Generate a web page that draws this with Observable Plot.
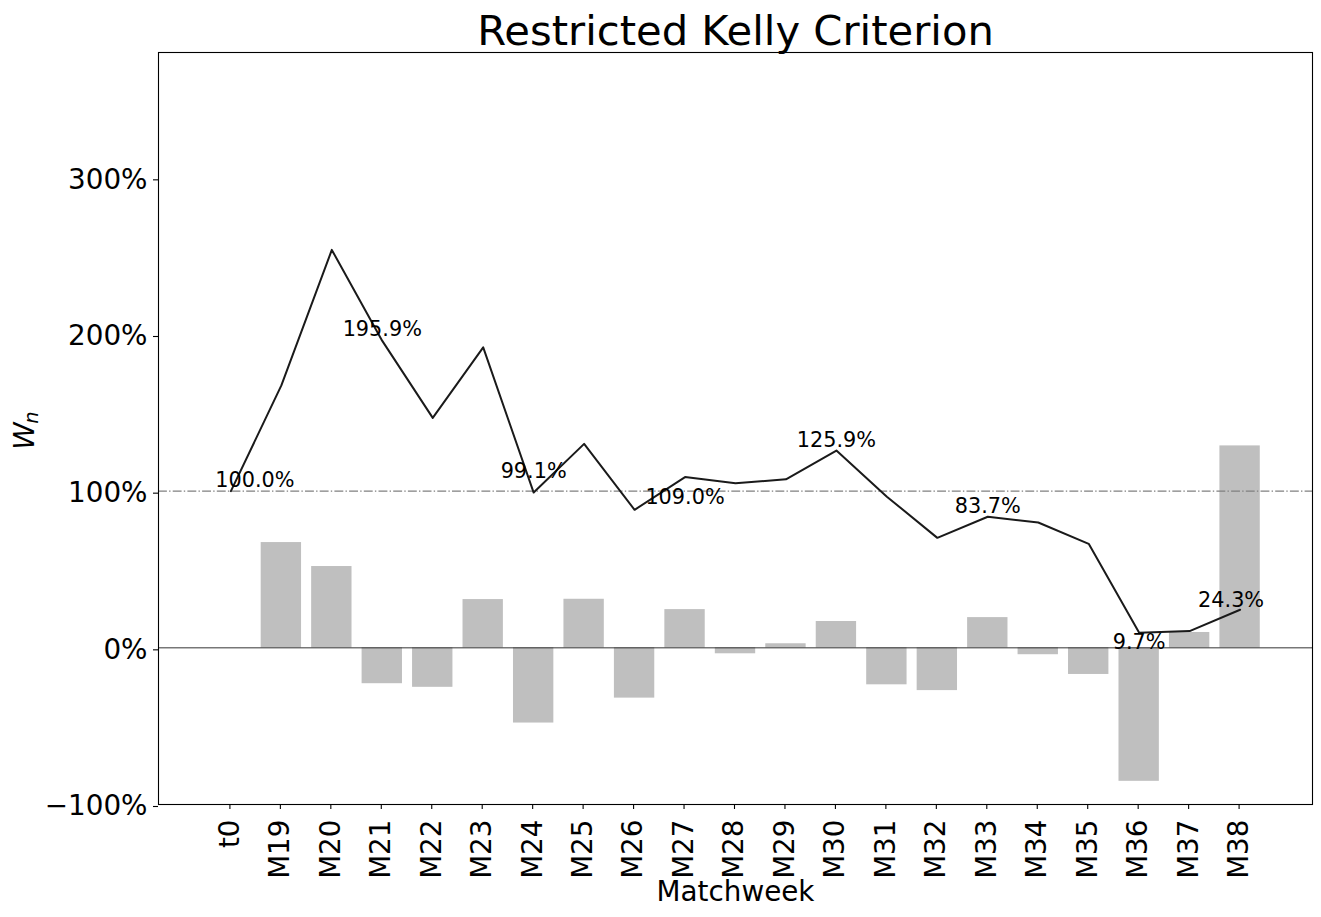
<!DOCTYPE html>
<html>
<head>
<meta charset="utf-8">
<script src="https://cdn.jsdelivr.net/npm/d3@7"></script>
<script src="https://cdn.jsdelivr.net/npm/@observablehq/plot@0.6"></script>
<style>
  html, body { margin: 0; padding: 0; background: white; }
  #chart svg { display: block; }
</style>
</head>
<body>
<div id="chart"></div>
<script>
// ---- data ----
const categories = ["t0","M19","M20","M21","M22","M23","M24","M25","M26","M27","M28",
                    "M29","M30","M31","M32","M33","M34","M35","M36","M37","M38"];
// cumulative wealth W_n (%)
const wealth = [100.0, 167.5, 254.0, 195.9, 146.8, 191.8, 99.1, 130.2, 88.1, 109.0, 105.0,
                107.6, 125.9, 96.5, 70.2, 83.7, 80.0, 66.4, 9.7, 10.7, 24.3];
// matchweek return (%) – no bar for t0
const returns = [null, 67.2, 51.9, -22.9, -25.2, 30.8, -48.0, 31.0, -32.1, 24.4, -3.8,
                 2.6, 16.8, -23.6, -27.3, 19.3, -4.4, -17.0, -85.2, 9.8, 128.9];
const labeledWeeks = ["t0","M21","M24","M27","M30","M33","M36","M38"];
const yTicks = [-100, 0, 100, 200, 300];
const titleText = "Restricted Kelly Criterion";
const xLabelText = "Matchweek";

// ---- tables built from the arrays ----
const wealthRows = categories.map((c, i) => ({week: c, w: wealth[i]}));
const barRows = categories.map((c, i) => ({week: c, r: returns[i]})).filter(d => d.r != null);

// label nudges (styling only)
const nudge = {t0:[24,-4], M21:[0,-5], M24:[0,-15], M27:[0,27], M30:[0,-4], M33:[0,-4], M36:[0,16], M38:[-9,-3]};

const labelMarks = labeledWeeks.map(wk => {
  const i = categories.indexOf(wk);
  return Plot.text([{week: wk, w: wealth[i]}], {
    x: "week", y: "w",
    text: d => d.w.toFixed(1) + "%",
    textAnchor: "middle", lineAnchor: "bottom",
    dx: nudge[wk][0], dy: nudge[wk][1],
    fontSize: 20.8, fill: "black"
  });
});

const fmt = d => (d < 0 ? "\u2212" : "") + Math.abs(d) + "%";

const chart = Plot.plot({
  width: 1321,
  height: 917,
  marginTop: 52,
  marginBottom: 113,
  marginLeft: 158,
  marginRight: 9,
  style: {fontFamily: "DejaVu Sans", background: "white", color: "black", overflow: "visible"},
  x: {type: "band", domain: categories, paddingInner: 0.2, paddingOuter: 1.035, align: 0.5, round: false},
  y: {domain: [-100, 380]},
  marks: [
    Plot.barY(barRows, {x: "week", y: "r", fill: "#bfbfbf"}),
    Plot.ruleY([0], {stroke: "black", strokeWidth: 0.8}),
    Plot.ruleY([100], {stroke: "#808080", strokeWidth: 1.2, strokeDasharray: "8.9,2.2,1.4,2.2"}),
    Plot.line(wealthRows, {x: "week", y: "w", stroke: "#1a1a1a", strokeWidth: 2}),
    ...labelMarks,
    Plot.axisY({ticks: yTicks, tickFormat: fmt, tickSize: 5, tickPadding: 6, fontSize: 27.8,
                dy: 2, label: null, strokeWidth: 1.1}),
    Plot.axisX({tickRotate: -90, tickSize: 5, tickPadding: 10, fontSize: 27.8, dx: -1,
                label: null, strokeWidth: 1.1}),
    Plot.frame({stroke: "black", strokeWidth: 1.1}),
    // title
    Plot.text([titleText], {frameAnchor: "top", text: d => d, lineAnchor: "bottom", dy: -8,
                            fontSize: 41.7, fill: "black"}),
    // x label
    Plot.text([xLabelText], {frameAnchor: "bottom", text: d => d, lineAnchor: "bottom", dy: 96,
                             fontSize: 27.8, fill: "black"}),
    // y label W_n (italic W with subscript n)
    Plot.text(["W"], {frameAnchor: "left", text: d => d, rotate: -90, lineAnchor: "bottom",
                      textAnchor: "middle", dx: -125, dy: 7.5, fontSize: 27.8, fontStyle: "italic", fill: "black"}),
    Plot.text(["n"], {frameAnchor: "left", text: d => d, rotate: -90, lineAnchor: "bottom",
                      textAnchor: "middle", dx: -121, dy: -11, fontSize: 19.5, fontStyle: "italic", fill: "black"})
  ]
});

document.getElementById("chart").appendChild(chart);
</script>
</body>
</html>
